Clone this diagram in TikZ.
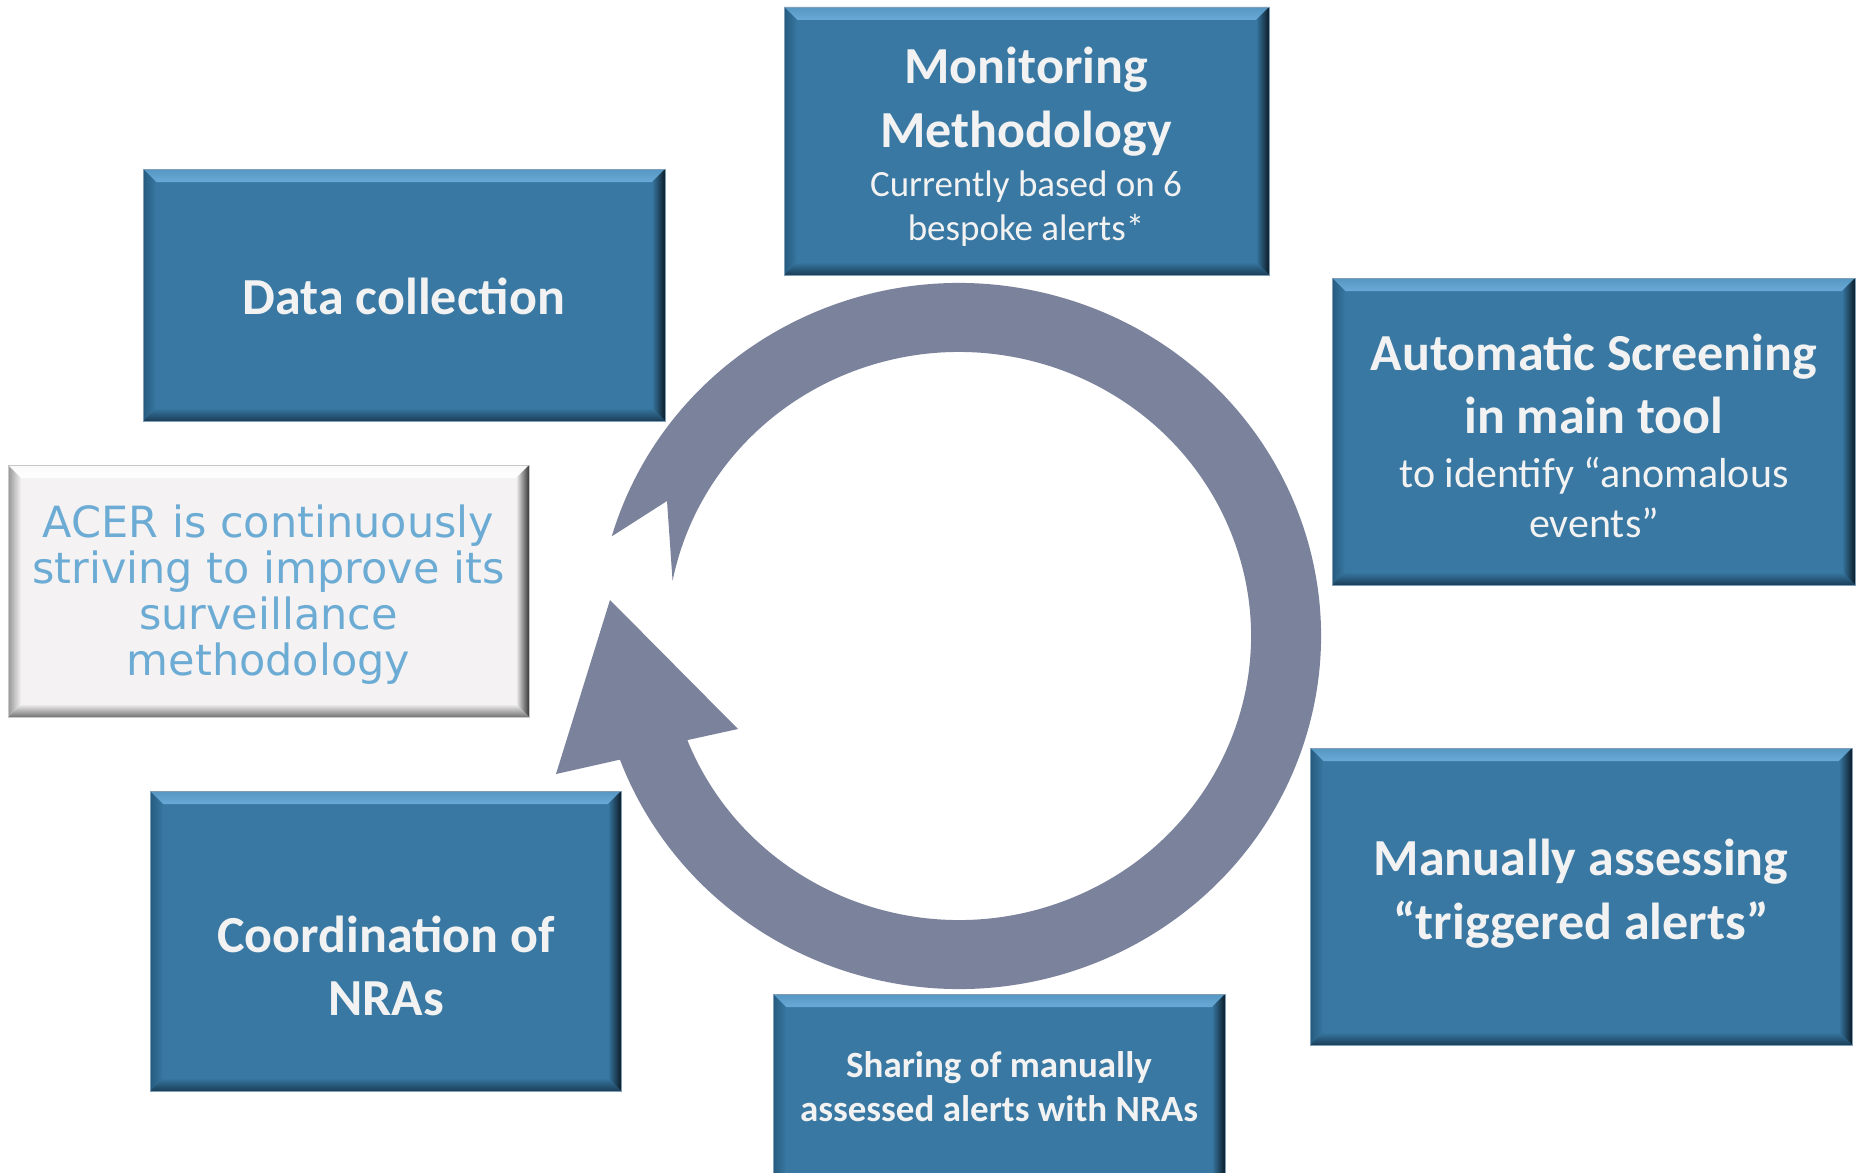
\documentclass[tikz,border=0pt]{standalone}
\usepackage{fontspec}
\setmainfont{Carlito}
\newfontfamily\acerfont{DejaVu Sans}
\usetikzlibrary{calc}

\definecolor{boxblue}{RGB}{56,120,162}
\definecolor{boxtop}{RGB}{72,138,184}
\definecolor{boxlight}{RGB}{106,170,216}
\definecolor{boxleft}{RGB}{38,90,126}
\definecolor{boxright}{RGB}{12,28,40}
\definecolor{boxbottom}{RGB}{26,62,88}
\definecolor{boxline}{RGB}{128,158,182}
\definecolor{txtwhite}{RGB}{242,242,242}
\definecolor{greyfill}{RGB}{244,242,243}
\definecolor{greyleft}{RGB}{150,150,150}
\definecolor{greyright}{RGB}{55,55,55}
\definecolor{greybottom}{RGB}{115,115,115}
\definecolor{greyline}{RGB}{200,200,200}
\definecolor{acerblue}{RGB}{108,172,212}
\definecolor{ringgrey}{RGB}{123,130,155}

\tikzset{
  bevelled/.style n args={5}{
    rectangle, inner sep=0pt, fill=#1, line width=0.4pt,
    path picture={
      \path (path picture bounding box.north west) coordinate (bnw)
            (path picture bounding box.north east) coordinate (bne)
            (path picture bounding box.south west) coordinate (bsw)
            (path picture bounding box.south east) coordinate (bse);
      \shade[top color=#2!60!#1, bottom color=#2]
        (bnw) -- (bne) -- ([shift={(-6.5pt,-6.5pt)}]bne) -- ([shift={(6.5pt,-6.5pt)}]bnw) -- cycle;
      \shade[left color=#3, right color=#1]
        (bnw) -- ([shift={(6.5pt,-6.5pt)}]bnw) -- ([shift={(6.5pt,6.5pt)}]bsw) -- (bsw) -- cycle;
      \shade[left color=#1, right color=#4]
        (bne) -- (bse) -- ([shift={(-6.5pt,6.5pt)}]bse) -- ([shift={(-6.5pt,-6.5pt)}]bne) -- cycle;
      \shade[top color=#1, bottom color=#5]
        (bsw) -- (bse) -- ([shift={(-6.5pt,6.5pt)}]bse) -- ([shift={(6.5pt,6.5pt)}]bsw) -- cycle;
    }},
  bluebox/.style={bevelled={boxblue}{boxlight}{boxleft}{boxright}{boxbottom}, draw=boxline},
  greybox/.style={bevelled={greyfill}{white}{greyleft}{greyright}{greybottom}, draw=greyline},
  boxtitle/.style={text=txtwhite, align=center, inner sep=0pt,
    font=\fontsize{26pt}{32pt}\selectfont\bfseries},
  boxsub/.style={text=txtwhite, align=center, inner sep=0pt},
  acertext/.style={text=acerblue, align=center, inner sep=0pt,
    font=\acerfont\fontsize{21.5pt}{23pt}\selectfont}
}

\begin{document}
\begin{tikzpicture}[x=0.5pt, y=-0.5pt]
  \useasboundingbox (0,0) rectangle (1856,1172);
  \fill[white] (0,0) rectangle (1856,1172);
  \clip (0,0) rectangle (1856,1172);

  % boxes round the cycle
  \node[bluebox, minimum width=242.5pt, minimum height=134pt] (mon) at (1026.5,141) {};
  \node[bluebox, minimum width=261pt, minimum height=126pt] (data) at (404,295) {};
  \node[bluebox, minimum width=261.5pt, minimum height=153.5pt] (auto) at (1593.5,431.5) {};
  \node[greybox, minimum width=260.5pt, minimum height=126pt] (acer) at (268.5,591) {};
  \node[bluebox, minimum width=271pt, minimum height=148.5pt] (man) at (1581,896.5) {};
  \node[bluebox, minimum width=235.5pt, minimum height=150pt] (coord) at (385.5,941) {};
  \node[bluebox, minimum width=226pt, minimum height=103pt] (share) at (999,1097) {};

  % texts
  \node[boxtitle] (montitle) at (1026,102) {Monitoring\\Methodology};
  \node[boxsub, font=\fontsize{18.5pt}{22pt}\selectfont] (monsub) at (1026,209)
    {Currently based on 6\\bespoke alerts*};
  \node[boxtitle, anchor=base] (datatitle) at (404,314) {Data collection};
  \node[boxtitle, font=\fontsize{26pt}{31.5pt}\selectfont\bfseries] (autotitle) at (1594,383.5)
    {Automatic Screening\\in main tool};
  \node[boxsub, font=\fontsize{21pt}{25pt}\selectfont] (autosub) at (1594,498)
    {to identify “anomalous\\events”};
  \node[acertext] (acertitle) at (268.5,594.5)
    {ACER is continuously\\striving to improve its\\surveillance\\methodology};
  \node[boxtitle] (mantitle) at (1581,894) {Manually assessing\\“triggered alerts”};
  \node[boxtitle, font=\fontsize{26pt}{31.5pt}\selectfont\bfseries] (coordtitle) at (386,965.5)
    {Coordination of\\NRAs};
  \node[boxsub, font=\fontsize{18.5pt}{22pt}\selectfont\bfseries] (sharetitle) at (999,1087)
    {Sharing of manually\\assessed alerts with NRAs};

  % cycle arrow
  \coordinate (ctr) at (959,636);
  \fill[ringgrey] (ctr) ++(196.4:362 and 353)
    arc[start angle=196.4, end angle=519.5, x radius=362, y radius=353]
    -- (556,774) -- (610,600) -- (738,729)
    -- ($(ctr)+(158.5:292 and 284)$)
    arc[start angle=518.5, end angle=191.2, x radius=292, y radius=284]
    -- (667,501) -- cycle;
\end{tikzpicture}
\end{document}
